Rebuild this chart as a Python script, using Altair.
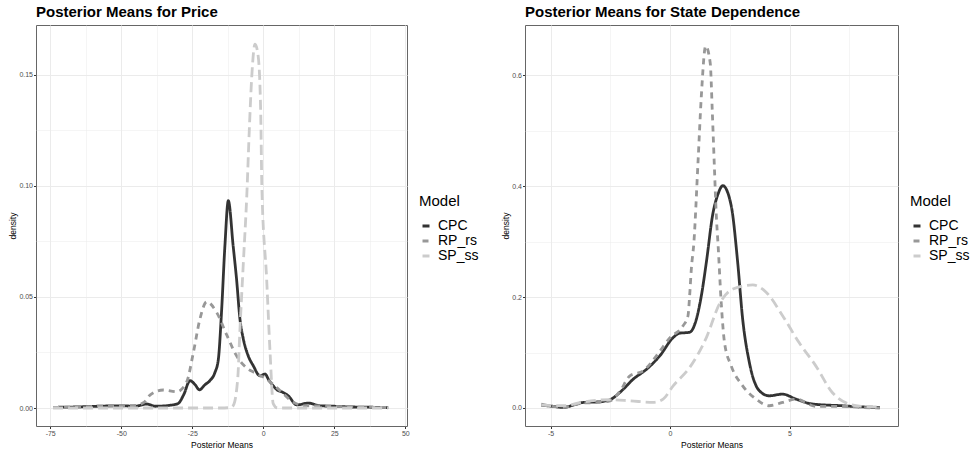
import altair as alt
import pandas as pd

MODELS = ["CPC", "RP_rs", "SP_ss"]
COLORS = ["#333333", "#989898", "#CCCCCC"]
DASHES = [[1, 0], [6, 5], [10, 5]]

# ---- Panel 1: Posterior Means for Price ----
price_cpc_x = [-74, -65, -58, -50, -45, -41, -38, -33, -30, -28, -25.8, -24, -22.5, -20.5, -18.8, -17, -15.8,
               -14.7, -13.5, -12.3, -10.6, -9.4, -8.2, -7.0, -5.3, -3.5, -1.2, 0.6, 2, 3.5, 5, 6.5, 8.8, 11.8,
               15.8, 20, 25, 30, 35, 40, 44]
price_cpc_y = [0.0003, 0.0005, 0.0008, 0.0010, 0.0008, 0.0018, 0.0008, 0.0012, 0.002, 0.006, 0.0123, 0.0105,
               0.0082, 0.0105, 0.0123, 0.016, 0.022, 0.043, 0.073, 0.0933, 0.073, 0.058, 0.040, 0.031, 0.0235,
               0.019, 0.0145, 0.0153, 0.0125, 0.010, 0.008, 0.0073, 0.0055, 0.0014, 0.0022, 0.001, 0.0008,
               0.0005, 0.0004, 0.0003, 0.0002]

price_rp_x = [-74, -65, -58, -50, -45, -42, -39.9, -35.2, -30.5, -27, -24.6, -22.3, -19.9, -16.4, -12.9, -9.4,
              -5.8, -2.9, 1.2, 5.9, 10.6, 15, 20, 25, 30, 35, 40, 44]
price_rp_y = [0.0003, 0.0004, 0.0008, 0.0010, 0.0012, 0.0025, 0.0058, 0.0081, 0.0073, 0.0116, 0.025, 0.040,
              0.0478, 0.043, 0.033, 0.0235, 0.018, 0.0158, 0.013, 0.0078, 0.0026, 0.001, 0.001, 0.0008,
              0.0005, 0.0004, 0.0003, 0.0002]

price_sp_x = [-74, -50, -30, -15, -11.5, -10.6, -9.0, -8.2, -7.0, -5.8, -4.9, -4.1, -2.9, -1.8, -0.9, -0.5,
              1.2, 2.4, 3.5, 5, 15, 30, 44]
price_sp_y = [0, 0, 0, 0, 0.0002, 0.001, 0.013, 0.0355, 0.0656, 0.0955, 0.1256, 0.148, 0.1638, 0.1585, 0.133,
              0.100, 0.058, 0.025, 0.002, 0, 0, 0, 0]

# ---- Panel 2: Posterior Means for State Dependence ----
sd_cpc_x = [-5.39, -4.9, -4.46, -4.0, -3.62, -3.0, -2.51, -2.1, -1.54, -0.98, -0.43, 0.13, 0.40, 0.82, 1.10,
            1.31, 1.52, 1.79, 2.0, 2.21, 2.56, 2.83, 3.04, 3.32, 3.74, 4.15, 4.71, 5.27, 5.96, 7.21, 8.0, 8.78]
sd_cpc_y = [0.005, 0.003, 0.001, 0.006, 0.010, 0.011, 0.015, 0.028, 0.052, 0.070, 0.094, 0.127, 0.135, 0.1365,
            0.160, 0.2025, 0.263, 0.350, 0.385, 0.401, 0.365, 0.263, 0.160, 0.082, 0.031, 0.022, 0.025, 0.016,
            0.0072, 0.004, 0.002, 0.001]

sd_rp_x = [-5.39, -4.9, -4.46, -4.0, -3.62, -3.0, -2.51, -2.1, -1.68, -1.12, -0.57, 0.0, 0.54, 0.75, 0.82, 0.89,
           1.0, 1.17, 1.31, 1.49, 1.68, 1.77, 1.86, 1.93, 2.02, 2.14, 2.28, 2.56, 3.04, 3.6, 4.15, 4.71, 5.27,
           6.1, 7.21, 8.0, 8.78]
sd_rp_y = [0.007, 0.003, 0.001, 0.006, 0.009, 0.010, 0.013, 0.030, 0.058, 0.067, 0.094, 0.127, 0.148, 0.166,
           0.2025, 0.25, 0.30, 0.443, 0.563, 0.653, 0.623, 0.533, 0.43, 0.353, 0.287, 0.191, 0.118, 0.076, 0.040,
           0.016, 0.004, 0.010, 0.016, 0.003, 0.003, 0.001, 0.0]

sd_sp_x = [-5.39, -4.46, -3.62, -2.51, -1.68, -0.71, -0.29, 0.13, 0.82, 1.52, 2.07, 2.63, 3.46, 4.02, 4.71, 5.40,
           6.1, 6.79, 7.49, 8.0, 8.78]
sd_sp_y = [0.005, 0.004, 0.011, 0.015, 0.013, 0.010, 0.016, 0.040, 0.073, 0.127, 0.188, 0.2146, 0.222, 0.209,
           0.1665, 0.118, 0.076, 0.028, 0.007, 0.003, 0.002]

FONT = "Liberation Sans"


def make_df(series):
    rows = []
    for model, xs, ys in series:
        for i, (x, y) in enumerate(zip(xs, ys)):
            rows.append({"Model": model, "x": x, "y": y, "order": i})
    return pd.DataFrame(rows)


def axis(values, majors, fmt, title, orient):
    majs = "[" + ",".join(repr(m) for m in majors) + "]"
    minor = f"indexof({majs}, datum.value) < 0"
    if fmt == "str":
        lab = "'' + datum.value"
    else:
        lab = f"format(datum.value, '{fmt}')"
    return alt.Axis(
        values=values,
        labelExpr=f"{minor} ? '' : {lab}",
        tickWidth={"condition": {"test": minor, "value": 0}, "value": 1},
        gridWidth={"condition": {"test": minor, "value": 0.5}, "value": 1},
        title=title,
        orient=orient,
    )


def panel(df, title, xdom, xvals, xmaj, ydom, yvals, ymaj, yfmt, width):
    leg = alt.Legend(orient="none", legendX=width + 12, legendY=169, title="Model")
    base = alt.Chart(df).mark_line(strokeWidth=2.8, interpolate="monotone").encode(
        x=alt.X("x:Q", scale=alt.Scale(domain=xdom, nice=False, zero=False),
                axis=axis(xvals, xmaj, "str", "Posterior Means", "bottom")),
        y=alt.Y("y:Q", scale=alt.Scale(domain=ydom, nice=False, zero=False),
                axis=axis(yvals, ymaj, yfmt, "density", "left")),
        color=alt.Color("Model:N", scale=alt.Scale(domain=MODELS, range=COLORS), legend=leg),
        strokeDash=alt.StrokeDash("Model:N", scale=alt.Scale(domain=MODELS, range=DASHES), legend=leg),
        order="order:Q",
    )
    return base.properties(
        width=width, height=401,
        title=alt.TitleParams(text=title, anchor="start", frame="group", fontSize=15, fontWeight="bold",
                              font=FONT, color="#000000", offset=5),
    )


df1 = make_df([("CPC", price_cpc_x, price_cpc_y), ("RP_rs", price_rp_x, price_rp_y),
               ("SP_ss", price_sp_x, price_sp_y)])
df2 = make_df([("CPC", sd_cpc_x, sd_cpc_y), ("RP_rs", sd_rp_x, sd_rp_y), ("SP_ss", sd_sp_x, sd_sp_y)])

p1 = panel(df1, "Posterior Means for Price", [-80.0, 50.6],
           [-75, -62.5, -50, -37.5, -25, -12.5, 0, 12.5, 25, 37.5, 50], [-75, -50, -25, 0, 25, 50],
           [-0.0081, 0.1724], [0, 0.025, 0.05, 0.075, 0.1, 0.125, 0.15], [0, 0.05, 0.1, 0.15], ".2f", 371)
p2 = panel(df2, "Posterior Means for State Dependence", [-6.07, 9.54],
           [-5, -2.5, 0, 2.5, 5, 7.5], [-5, 0, 5],
           [-0.0325, 0.691], [0, 0.1, 0.2, 0.3, 0.4, 0.5, 0.6], [0, 0.2, 0.4, 0.6], ".1f", 373)

chart = alt.hconcat(p1, p2, spacing=20).resolve_scale(
    color="independent", strokeDash="independent"
).resolve_legend(
    color="independent", strokeDash="independent"
).properties(
    padding={"left": 7, "top": 4, "right": 0, "bottom": 0}
).configure(
    font=FONT, background="white"
).configure_view(
    stroke="#666666", strokeWidth=1
).configure_axis(
    domain=False, grid=True, gridColor="#EBEBEB", tickColor="#333333", tickSize=2.5,
    labelColor="#4D4D4D", labelFontSize=7, labelFont=FONT, labelPadding=1,
    titleFontSize=8.5, titleFont=FONT, titleFontWeight="normal", titleColor="#000000",
).configure_axisX(
    titlePadding=4
).configure_axisY(
    titlePadding=1.5
).configure_legend(
    titleFontSize=15, titleFontWeight="normal", titleFont=FONT, titleColor="#000000",
    labelFontSize=14, labelFont=FONT, labelColor="#000000", symbolType="stroke", symbolSize=49,
    symbolStrokeWidth=3, rowPadding=1, titlePadding=10, labelOffset=5, padding=0,
)

chart.save("out.html", embed_options={"renderer": "svg", "actions": False})
